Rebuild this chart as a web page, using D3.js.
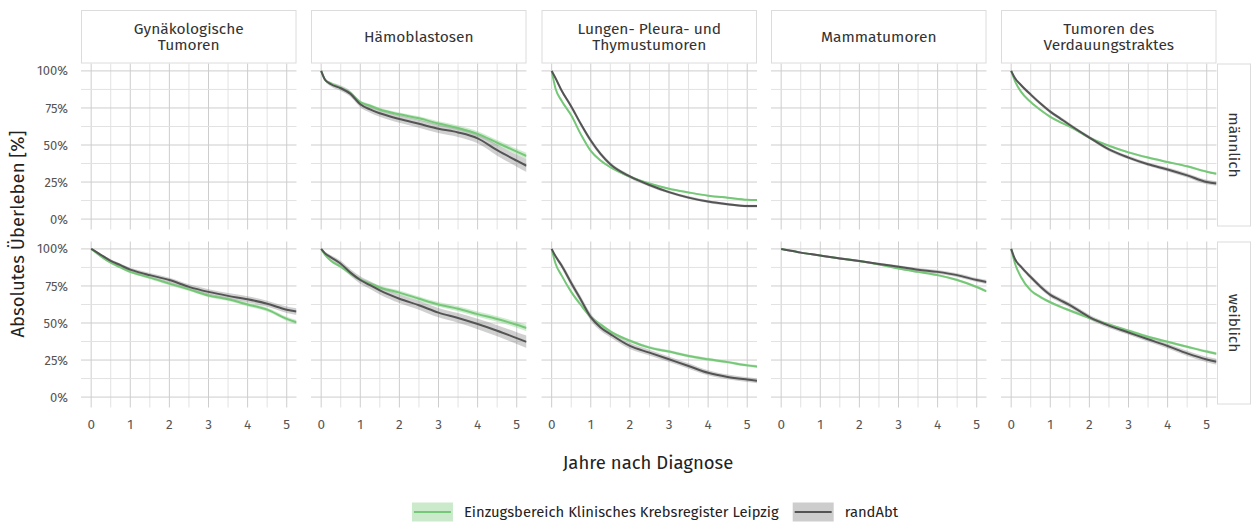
<!DOCTYPE html>
<html>
<head>
<meta charset="utf-8">
<script src="https://cdn.jsdelivr.net/npm/d3@7"></script>
<style>
  body { margin: 0; background: #fff; }
  svg { display: block; font-family: "Fira Sans", "Noto Sans", sans-serif; }
</style>
</head>
<body>
<svg id="chart" width="1252" height="524"></svg>
<script>
// Facet labels
const tumorGroups = ["Gynäkologische\nTumoren", "Hämoblastosen", "Lungen- Pleura- und\nThymustumoren", "Mammatumoren", "Tumoren des\nVerdauungstraktes"];
const sexes = ["männlich", "weiblich"];
const seriesNames = ["Einzugsbereich Klinisches Krebsregister Leipzig", "randAbt"];

// Axis ticks
const xTicks = [0, 1, 2, 3, 4, 5];
const yTicks = [0, 25, 50, 75, 100];
const yTickLabels = ["0%", "25%", "50%", "75%", "100%"];

// Time points (years after diagnosis) of the survival estimates
const years = [0, 0.1, 0.25, 0.5, 0.75, 1, 1.25, 1.5, 2, 2.5, 3, 3.5, 4, 4.5, 5, 5.25];

// Absolute survival [%] and half-width of the confidence band [%]
// Hämoblastosen, männlich
const haemM_leipzig    = [100, 94, 91.5, 88.5, 85, 79, 76.5, 74, 70.7, 68, 64.5, 61.5, 57.5, 51.5, 45.5, 42.6];
const haemM_leipzigCI  = [0, 0.5, 0.8, 1, 1, 1.1, 1.2, 1.2, 1.3, 1.4, 1.5, 1.6, 1.7, 1.8, 2, 2.2];
const haemM_randAbt    = [100, 94, 91, 88.3, 84.5, 77.5, 74, 71.4, 67.5, 64.3, 61, 58.5, 54.5, 46.5, 39.4, 36];
const haemM_randAbtCI  = [0, 1, 1.5, 1.8, 2, 2, 2.2, 2.3, 2.5, 2.7, 2.9, 3.1, 3.4, 3.7, 4, 4.3];
// Lungen- Pleura- und Thymustumoren, männlich
const lungM_leipzig    = [100, 88, 80, 70, 57, 46, 39.5, 35, 28.6, 24, 20.5, 18, 15.8, 14.4, 13, 12.8];
const lungM_leipzigCI  = [0, 0.6, 0.8, 0.9, 0.9, 0.8, 0.8, 0.7, 0.7, 0.6, 0.6, 0.6, 0.6, 0.6, 0.6, 0.6];
const lungM_randAbt    = [100, 95, 87, 76, 64, 53, 44, 37, 28.8, 23, 18.2, 14.5, 11.8, 10, 8.8, 8.8];
const lungM_randAbtCI  = [0, 0.8, 1.2, 1.5, 1.6, 1.6, 1.5, 1.4, 1.2, 1.1, 1, 1, 0.9, 0.9, 0.9, 0.9];
// Tumoren des Verdauungstraktes, männlich
const verdM_leipzig    = [100, 93, 86, 79, 73.6, 69, 65.5, 62.4, 55, 49.5, 45, 41.5, 38.5, 35.6, 32, 30.6];
const verdM_leipzigCI  = [0, 0.5, 0.6, 0.7, 0.7, 0.7, 0.7, 0.7, 0.7, 0.7, 0.7, 0.7, 0.7, 0.7, 0.8, 0.8];
const verdM_randAbt    = [100, 95, 90.5, 84, 78, 72.5, 68, 63.5, 55, 47, 41.5, 37, 33.5, 29.5, 25, 24];
const verdM_randAbtCI  = [0, 0.7, 1, 1.2, 1.2, 1.2, 1.2, 1.2, 1.2, 1.2, 1.2, 1.2, 1.3, 1.4, 1.5, 1.5];
// Gynäkologische Tumoren, weiblich
const gynW_leipzig     = [100, 98, 95, 90.7, 87.5, 84.5, 82.5, 80.6, 76.6, 72.7, 68.6, 66, 62.5, 59, 52.8, 50.5];
const gynW_leipzigCI   = [0, 0.4, 0.6, 0.8, 0.9, 1, 1, 1, 1.1, 1.1, 1.2, 1.2, 1.3, 1.3, 1.4, 1.5];
const gynW_randAbt     = [100, 98.5, 96, 92, 89, 86, 84, 82.3, 79, 74.4, 71, 68.3, 66, 63, 59, 57.7];
const gynW_randAbtCI   = [0, 0.5, 0.8, 1, 1.2, 1.3, 1.4, 1.5, 1.6, 1.7, 1.8, 1.9, 2, 2.1, 2.2, 2.3];
// Hämoblastosen, weiblich
const haemW_leipzig    = [100, 96, 92, 88, 83.4, 79.3, 76.5, 74, 70.5, 66.4, 62.5, 59.6, 56, 52.7, 48.8, 46.6];
const haemW_leipzigCI  = [0, 0.6, 0.9, 1, 1.1, 1.2, 1.2, 1.3, 1.4, 1.5, 1.6, 1.7, 1.8, 1.9, 2, 2.2];
const haemW_randAbt    = [100, 97, 94.3, 90, 84, 79, 75.5, 72, 66.4, 62, 57, 53.4, 49.3, 44.8, 39.8, 37.3];
const haemW_randAbtCI  = [0, 1, 1.5, 2, 2.3, 2.5, 2.6, 2.7, 2.9, 3, 3.2, 3.3, 3.5, 3.7, 4, 4.2];
// Lungen- Pleura- und Thymustumoren, weiblich
const lungW_leipzig    = [100, 90, 82.3, 71, 62, 54, 49, 44.3, 38, 33.4, 30.7, 27.7, 25.5, 23.6, 21.4, 20.7];
const lungW_leipzigCI  = [0, 0.8, 1, 1.1, 1.1, 1.1, 1.1, 1, 1, 1, 1, 1, 1, 1, 1, 1];
const lungW_randAbt    = [100, 95, 89, 77, 65.5, 54, 47, 42.5, 34.5, 30, 25.5, 21, 16.4, 13.6, 11.8, 11];
const lungW_randAbtCI  = [0, 1.2, 1.8, 2.2, 2.4, 2.4, 2.3, 2.2, 2.1, 2, 1.9, 1.8, 1.7, 1.6, 1.6, 1.6];
// Mammatumoren, weiblich
const mammaW_leipzig   = [100, 99.5, 98.8, 97.5, 96.5, 95.5, 94.5, 93.6, 91.8, 89.5, 86.8, 84.5, 82.3, 79, 74.3, 71.4];
const mammaW_leipzigCI = [0, 0.2, 0.3, 0.4, 0.4, 0.5, 0.5, 0.5, 0.6, 0.6, 0.7, 0.7, 0.8, 0.8, 0.9, 0.9];
const mammaW_randAbt   = [100, 99.5, 98.8, 97.5, 96.5, 95.5, 94.5, 93.6, 91.8, 89.8, 88, 86, 84.5, 82.3, 79, 77.7];
const mammaW_randAbtCI = [0, 0.3, 0.4, 0.5, 0.6, 0.6, 0.7, 0.7, 0.8, 0.9, 1, 1.1, 1.2, 1.3, 1.4, 1.5];
// Tumoren des Verdauungstraktes, weiblich
const verdW_leipzig    = [100, 90, 81, 72, 67.5, 64, 61, 58.4, 53.4, 48.9, 44.8, 40.7, 37.3, 34, 30.7, 29.3];
const verdW_leipzigCI  = [0, 0.6, 0.8, 0.9, 0.9, 0.9, 0.9, 0.9, 0.9, 0.9, 0.9, 0.9, 0.9, 0.9, 1, 1];
const verdW_randAbt    = [100, 93, 88, 81, 74.5, 69, 65.5, 62, 54, 48.2, 43.6, 39, 34.5, 29.5, 25.4, 23.9];
const verdW_randAbtCI  = [0, 1, 1.3, 1.5, 1.6, 1.6, 1.6, 1.6, 1.6, 1.6, 1.6, 1.6, 1.7, 1.8, 1.9, 2];

// Which curves belong into which facet (col = tumour group, row = sex)
const panelCurves = [
  { col: 1, row: 0, series: [[haemM_leipzig, haemM_leipzigCI], [haemM_randAbt, haemM_randAbtCI]] },
  { col: 2, row: 0, series: [[lungM_leipzig, lungM_leipzigCI], [lungM_randAbt, lungM_randAbtCI]] },
  { col: 4, row: 0, series: [[verdM_leipzig, verdM_leipzigCI], [verdM_randAbt, verdM_randAbtCI]] },
  { col: 0, row: 1, series: [[gynW_leipzig, gynW_leipzigCI], [gynW_randAbt, gynW_randAbtCI]] },
  { col: 1, row: 1, series: [[haemW_leipzig, haemW_leipzigCI], [haemW_randAbt, haemW_randAbtCI]] },
  { col: 2, row: 1, series: [[lungW_leipzig, lungW_leipzigCI], [lungW_randAbt, lungW_randAbtCI]] },
  { col: 3, row: 1, series: [[mammaW_leipzig, mammaW_leipzigCI], [mammaW_randAbt, mammaW_randAbtCI]] },
  { col: 4, row: 1, series: [[verdW_leipzig, verdW_leipzigCI], [verdW_randAbt, verdW_randAbtCI]] }
];

// Styling
const lineColors = ["#76c878", "#545454"];
const bandColors = ["rgba(118,200,120,0.35)", "rgba(120,120,120,0.35)"];
const legendFills = ["#cbe9cb", "#cdcdcd"];

// Layout
const colLeft = [81, 311, 541.5, 771, 1001];
const rowTop = [63.5, 241.5];
const panelW = 215.5, panelH = 163;
const stripTop = 10, stripRight = { x: 1217, w: 34 };

const svg = d3.select("#chart");

const x = d3.scaleLinear().domain([-0.26, 5.25]).range([0, panelW]);
const y = d3.scaleLinear().domain([-5, 105]).range([panelH, 0]);
const xMinor = d3.range(0, 5.01, 0.5);
const yMinor = d3.range(0, 100.1, 12.5);

const defs = svg.append("defs");
defs.append("clipPath").attr("id", "panelClip")
  .append("rect").attr("x", 0).attr("y", 0).attr("width", panelW).attr("height", panelH);

// Panels with grid
for (let r = 0; r < sexes.length; r++) {
  for (let c = 0; c < tumorGroups.length; c++) {
    const g = svg.append("g").attr("class", `panel-${r}-${c}`)
      .attr("transform", `translate(${colLeft[c]},${rowTop[r]})`);
    g.selectAll(".gx").data(xMinor).join("line")
      .attr("x1", d => x(d)).attr("x2", d => x(d)).attr("y1", 0).attr("y2", panelH + 3)
      .attr("stroke", d => Number.isInteger(d) ? "#cdcdcd" : "#e2e2e2").attr("stroke-width", 1);
    g.selectAll(".gy").data(yMinor).join("line")
      .attr("x1", 0).attr("x2", panelW).attr("y1", d => y(d)).attr("y2", d => y(d))
      .attr("stroke", d => d % 25 === 0 ? "#cdcdcd" : "#e2e2e2").attr("stroke-width", 1);
  }
}

// Survival curves with confidence bands
const line = d3.line().x((d, i) => x(years[i])).y(d => y(d)).curve(d3.curveMonotoneX);
const band = d3.area().x(d => x(d.t))
  .y0(d => y(d.v - d.ci)).y1(d => y(d.v + d.ci)).curve(d3.curveMonotoneX);

panelCurves.forEach(p => {
  const g = svg.append("g")
    .attr("transform", `translate(${colLeft[p.col]},${rowTop[p.row]})`)
    .attr("clip-path", "url(#panelClip)");
  p.series.forEach(([vals, ci], s) => {
    g.append("path").datum(vals.map((v, i) => ({ t: years[i], v, ci: ci[i] })))
      .attr("d", band).attr("fill", bandColors[s]).attr("stroke", "none");
  });
  p.series.forEach(([vals], s) => {
    g.append("path").datum(vals).attr("d", line)
      .attr("fill", "none").attr("stroke", lineColors[s]).attr("stroke-width", 2)
      .attr("stroke-linejoin", "round");
  });
});

// Top strips
tumorGroups.forEach((name, c) => {
  const g = svg.append("g").attr("transform", `translate(${colLeft[c]},${stripTop})`);
  g.append("rect").attr("x", 0.5).attr("y", 0.5).attr("width", panelW - 1).attr("height", rowTop[0] - stripTop - 1)
    .attr("fill", "#fff").attr("stroke", "#dcdcdc");
  const lines = name.split("\n");
  const mid = (rowTop[0] - stripTop) / 2;
  lines.forEach((ln, i) => {
    g.append("text").attr("x", panelW / 2)
      .attr("y", mid + (i - (lines.length - 1) / 2) * 16)
      .attr("dy", "0.35em").attr("text-anchor", "middle")
      .attr("font-size", 15.5).attr("fill", "#333").text(ln);
  });
});

// Right strips
sexes.forEach((s, r) => {
  const g = svg.append("g").attr("transform", `translate(${stripRight.x},${rowTop[r]})`);
  g.append("rect").attr("x", 0.5).attr("y", 0.5).attr("width", stripRight.w - 1).attr("height", panelH - 1)
    .attr("fill", "#fff").attr("stroke", "#dcdcdc");
  g.append("text").attr("transform", `translate(${stripRight.w / 2},${panelH / 2}) rotate(90)`)
    .attr("text-anchor", "middle").attr("dy", "0.35em")
    .attr("font-size", 15.5).attr("fill", "#333").text(s);
});

// Y axis labels
rowTop.forEach(top => {
  svg.append("g").selectAll("text").data(yTicks).join("text")
    .attr("x", 68).attr("y", d => top + y(d)).attr("dy", "0.35em")
    .attr("text-anchor", "end").attr("font-size", 13).attr("fill", "#555")
    .text((d, i) => yTickLabels[i]);
});

// X axis labels
colLeft.forEach(left => {
  svg.append("g").selectAll("text").data(xTicks).join("text")
    .attr("x", d => left + x(d)).attr("y", 424).attr("dy", "0.35em")
    .attr("text-anchor", "middle").attr("font-size", 13.5).attr("fill", "#555")
    .text(d => d);
});

// Axis titles
svg.append("text").attr("x", 648).attr("y", 463).attr("dy", "0.35em")
  .attr("text-anchor", "middle").attr("font-size", 18.5).attr("fill", "#222")
  .text("Jahre nach Diagnose");
svg.append("text").attr("transform", `translate(18,${(rowTop[0] + rowTop[1] + panelH) / 2}) rotate(-90)`)
  .attr("text-anchor", "middle").attr("dy", "0.35em").attr("font-size", 18.5).attr("fill", "#222")
  .text("Absolutes Überleben [%]");

// Legend
const legend = svg.append("g");
const keyW = 41, keyH = 19, keyGap = 11, itemGap = 14, legendY = 512;
const items = seriesNames.map((name, i) => {
  const g = legend.append("g");
  g.append("rect").attr("x", 0).attr("y", legendY - keyH / 2).attr("width", keyW).attr("height", keyH)
    .attr("fill", legendFills[i]);
  g.append("line").attr("x1", 2).attr("x2", keyW - 2).attr("y1", legendY).attr("y2", legendY)
    .attr("stroke", lineColors[i]).attr("stroke-width", 2);
  const t = g.append("text").attr("x", keyW + keyGap).attr("y", legendY).attr("dy", "0.35em")
    .attr("font-size", 14.8).attr("fill", "#222").text(name);
  return { g, w: keyW + keyGap + t.node().getComputedTextLength() };
});
const totalW = d3.sum(items, d => d.w) + itemGap * (items.length - 1);
let cx = 655 - totalW / 2;
items.forEach(it => { it.g.attr("transform", `translate(${cx},0)`); cx += it.w + itemGap; });
</script>
</body>
</html>
